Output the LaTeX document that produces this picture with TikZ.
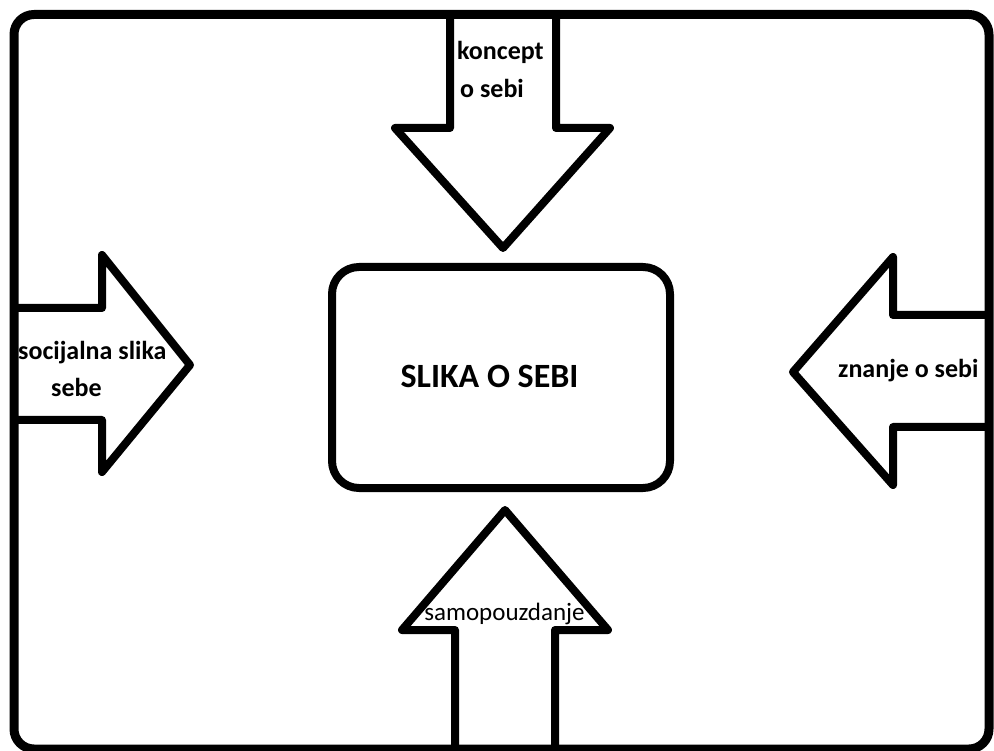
\documentclass[tikz,border=0pt]{standalone}
\usepackage{fontspec}
\setmainfont{Carlito}
\begin{document}
\begin{tikzpicture}[x=1pt,y=-1pt,
  outline/.style={line width=8pt,draw=black,line join=round},
  lbl/.style={font=\bfseries\fontsize{26}{30}\selectfont,inner sep=0pt,text=black}]
\useasboundingbox (0,0) rectangle (994,751);
\fill[white] (0,0) rectangle (994,751);
% outer frame
\draw[outline,line width=9pt,rounded corners=20pt] (14,14.5) rectangle (989,749);
% top arrow
\draw[outline] (450,14.5) -- (450,128) -- (395,128) -- (503,248) -- (610,128) -- (556,128) -- (556,14.5);
% left arrow
\draw[outline] (14,308) -- (102,308) -- (102,255) -- (190,365) -- (102,472) -- (102,420) -- (14,420);
% right arrow
\draw[outline] (989,315) -- (893,315) -- (893,257) -- (793,372) -- (893,485) -- (893,427) -- (989,427);
% bottom arrow
\draw[outline] (455,749) -- (455,630) -- (402,630) -- (505,510) -- (608,630) -- (555,630) -- (555,749);
% centre box
\draw[outline,rounded corners=27pt] (332,267) rectangle (670,488);
\node[font=\bfseries\fontsize{34}{40}\selectfont,inner sep=0pt,anchor=base] (title) at (489.5,388) {SLIKA O SEBI};
\node[lbl,anchor=base west] (k1) at (457,60) {koncept};
\node[lbl,anchor=base west] (k2) at (460,98) {o sebi};
\node[lbl,anchor=base west] (s1) at (18,360) {socijalna slika};
\node[lbl,anchor=base west] (s2) at (51,397) {sebe};
\node[lbl,anchor=base west] (z1) at (838,378) {znanje o sebi};
\node[font=\fontsize{25}{30}\selectfont,inner sep=0pt,anchor=base] (p1) at (504.5,620) {samopouzdanje};
\end{tikzpicture}
\end{document}
